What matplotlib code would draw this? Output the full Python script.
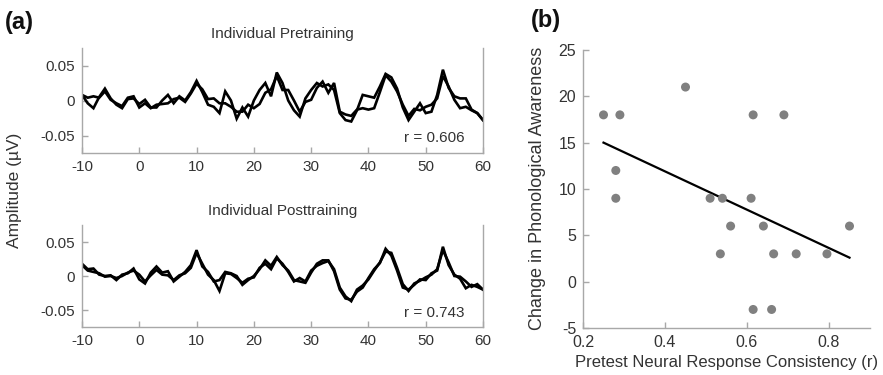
import numpy as np
import matplotlib
matplotlib.use("Agg")
import matplotlib.pyplot as plt

plt.rcParams['font.family'] = ['Liberation Sans', 'DejaVu Sans']
plt.rcParams['axes.unicode_minus'] = False

# ---------------- data ----------------
time_ms = list(range(-10, 61))

pre_trace_1 = [0.008, -0.004, -0.011, 0.005, 0.017, 0.003, -0.006, -0.011, 0.002, 0.003,
               -0.005, 0.001, -0.010, -0.010, 0.000, 0.008, -0.004, 0.006, 0.000, 0.012,
               0.028, 0.012, -0.006, -0.009, -0.018, 0.013, 0.000, -0.026, -0.010, -0.023,
               0.000, 0.015, 0.025, 0.006, 0.040, 0.025, 0.000, -0.014, -0.023, 0.003,
               0.015, 0.025, 0.020, 0.023, 0.015, -0.018, -0.028, -0.030, -0.014, 0.008,
               0.006, 0.004, 0.020, 0.038, 0.033, 0.017, -0.010, -0.028, -0.016, -0.004,
               -0.018, -0.016, 0.008, 0.044, 0.018, 0.006, 0.003, 0.003, -0.013, -0.018,
               -0.028]
pre_trace_2 = [0.008, 0.004, 0.006, 0.004, 0.013, 0.001, -0.004, -0.008, 0.004, 0.006,
               -0.010, -0.004, -0.011, -0.006, -0.005, -0.004, 0.002, 0.004, -0.002, 0.010,
               0.024, 0.016, 0.002, 0.003, -0.004, -0.004, -0.009, -0.016, -0.016, -0.006,
               -0.011, -0.005, 0.011, 0.016, 0.035, 0.015, 0.015, 0.000, -0.016, -0.002,
               0.001, 0.018, 0.027, 0.011, 0.025, -0.016, -0.020, -0.022, -0.013, -0.011,
               -0.013, -0.011, 0.012, 0.036, 0.027, 0.013, -0.006, -0.022, -0.012, -0.014,
               -0.009, -0.006, 0.003, 0.035, 0.020, 0.001, -0.011, -0.009, -0.014, -0.018,
               -0.028]
post_trace_1 = [0.018, 0.010, 0.011, 0.002, 0.000, 0.001, -0.006, 0.002, 0.004, 0.011,
                -0.005, -0.011, 0.005, 0.014, 0.005, 0.007, -0.008, -0.001, 0.006, 0.016,
                0.038, 0.014, 0.006, -0.008, -0.006, 0.006, 0.004, 0.000, -0.013, -0.006,
                0.000, 0.010, 0.023, 0.015, 0.028, 0.016, 0.008, -0.006, -0.008, -0.010,
                0.005, 0.018, 0.023, 0.023, 0.007, -0.020, -0.033, -0.035, -0.023, -0.017,
                -0.003, 0.010, 0.019, 0.040, 0.030, 0.008, -0.017, -0.020, -0.013, -0.005,
                -0.006, 0.004, 0.008, 0.043, 0.016, 0.002, -0.004, -0.018, -0.013, -0.016,
                -0.020]
post_trace_2 = [0.016, 0.008, 0.006, 0.004, -0.001, 0.000, -0.003, 0.000, 0.005, 0.008,
                0.002, -0.008, 0.001, 0.009, 0.002, 0.001, -0.006, 0.001, 0.004, 0.012,
                0.034, 0.018, 0.002, -0.006, -0.022, 0.004, 0.003, -0.003, -0.010, -0.004,
                -0.002, 0.012, 0.018, 0.010, 0.026, 0.018, 0.006, -0.008, -0.003, -0.008,
                0.008, 0.015, 0.019, 0.022, 0.010, -0.017, -0.030, -0.037, -0.020, -0.014,
                -0.005, 0.008, 0.020, 0.036, 0.034, 0.012, -0.012, -0.022, -0.011, -0.007,
                -0.002, 0.002, 0.010, 0.038, 0.020, 0.000, -0.001, -0.008, -0.016, -0.012,
                -0.020]
r_pre = "r = 0.606"
r_post = "r = 0.743"

consistency = [0.25, 0.29, 0.45, 0.28, 0.28, 0.51, 0.54, 0.61, 0.615, 0.69,
               0.56, 0.64, 0.85, 0.535, 0.665, 0.72, 0.795, 0.615, 0.66]
change_pa = [18, 18, 21, 12, 9, 9, 9, 9, 18, 18,
             6, 6, 6, 3, 3, 3, 3, -3, -3]

a_xticks = [-10, 0, 10, 20, 30, 40, 50, 60]
a_yticks = [-0.05, 0, 0.05]
a_yticklabels = ["-0.05", "0", "0.05"]
b_xticks = [0.2, 0.4, 0.6, 0.8]
b_yticks = [-5, 0, 5, 10, 15, 20, 25]

# ---------------- figure ----------------
W, H = 883, 375
fig = plt.figure(figsize=(W / 100, H / 100), dpi=100)

spine_c = '#a8a8a8'
text_c = '#333333'

def style(ax, right=False):
    for s in ['top', 'right']:
        ax.spines[s].set_visible(False)
    if right:
        ax.spines['right'].set_visible(True)
    for s in ['left', 'bottom', 'right']:
        ax.spines[s].set_color(spine_c)
        ax.spines[s].set_linewidth(1.0)
    ax.tick_params(direction='in', length=4, width=1.0, color=spine_c,
                   labelcolor=text_c, labelsize=11, pad=5)

def fx(px):
    return px / W

def fy(py):
    return 1 - py / H

ax1 = fig.add_axes([fx(82), fy(153), fx(483) - fx(82), fy(48) - fy(153)])
ax2 = fig.add_axes([fx(82), fy(327), fx(483) - fx(82), fy(225) - fy(327)])
ax3 = fig.add_axes([fx(583), fy(328), fx(870) - fx(583), fy(50) - fy(328)])

for ax, t1, t2, title, rtxt in [(ax1, pre_trace_1, pre_trace_2, "Individual Pretraining", r_pre),
                                (ax2, post_trace_1, post_trace_2, "Individual Posttraining", r_post)]:
    ax.plot(time_ms, t1, color='black', lw=1.9, solid_joinstyle='miter')
    ax.plot(time_ms, t2, color='black', lw=1.9, solid_joinstyle='miter')
    ax.set_xlim(-10, 60)
    ax.set_ylim(-0.075, 0.075)
    ax.set_xticks(a_xticks)
    ax.set_yticks(a_yticks)
    ax.set_yticklabels(a_yticklabels)
    style(ax, right=True)
    ax.set_title(title, fontsize=11, color=text_c, pad=7)
    ax.text(56.8, -0.054, rtxt, ha='right', va='center', fontsize=11, color=text_c)

# panel b
ax3.scatter(consistency, change_pa, s=42, color='#808080', edgecolors='none', zorder=3)
slope, intercept = np.polyfit(consistency, change_pa, 1)
xs = np.array([min(consistency), max(consistency)])
ax3.plot(xs, slope * xs + intercept, color='black', lw=1.6, zorder=2)
ax3.set_xlim(0.2, 0.9)
ax3.set_ylim(-5, 25)
ax3.set_xticks(b_xticks)
ax3.set_xticklabels([str(v) for v in b_xticks])
ax3.set_yticks(b_yticks)
style(ax3)
ax3.tick_params(labelsize=11.5)
ax3.set_xlabel("Pretest Neural Response Consistency (r)", fontsize=12, color=text_c, labelpad=4)

fig.text(fx(537), fy(188), "Change in Phonological Awareness", rotation=90,
         ha='center', va='center', fontsize=13, color=text_c)
fig.text(fx(15), fy(190), "Amplitude (µV)", rotation=90,
         ha='center', va='center', fontsize=12.5, color=text_c)
fig.text(fx(5), fy(22), "(a)", ha='left', va='center', fontsize=17, fontweight='bold', color='#111111')
fig.text(fx(531), fy(20), "(b)", ha='left', va='center', fontsize=17, fontweight='bold', color='#111111')

fig.savefig("out.png", dpi=100)
